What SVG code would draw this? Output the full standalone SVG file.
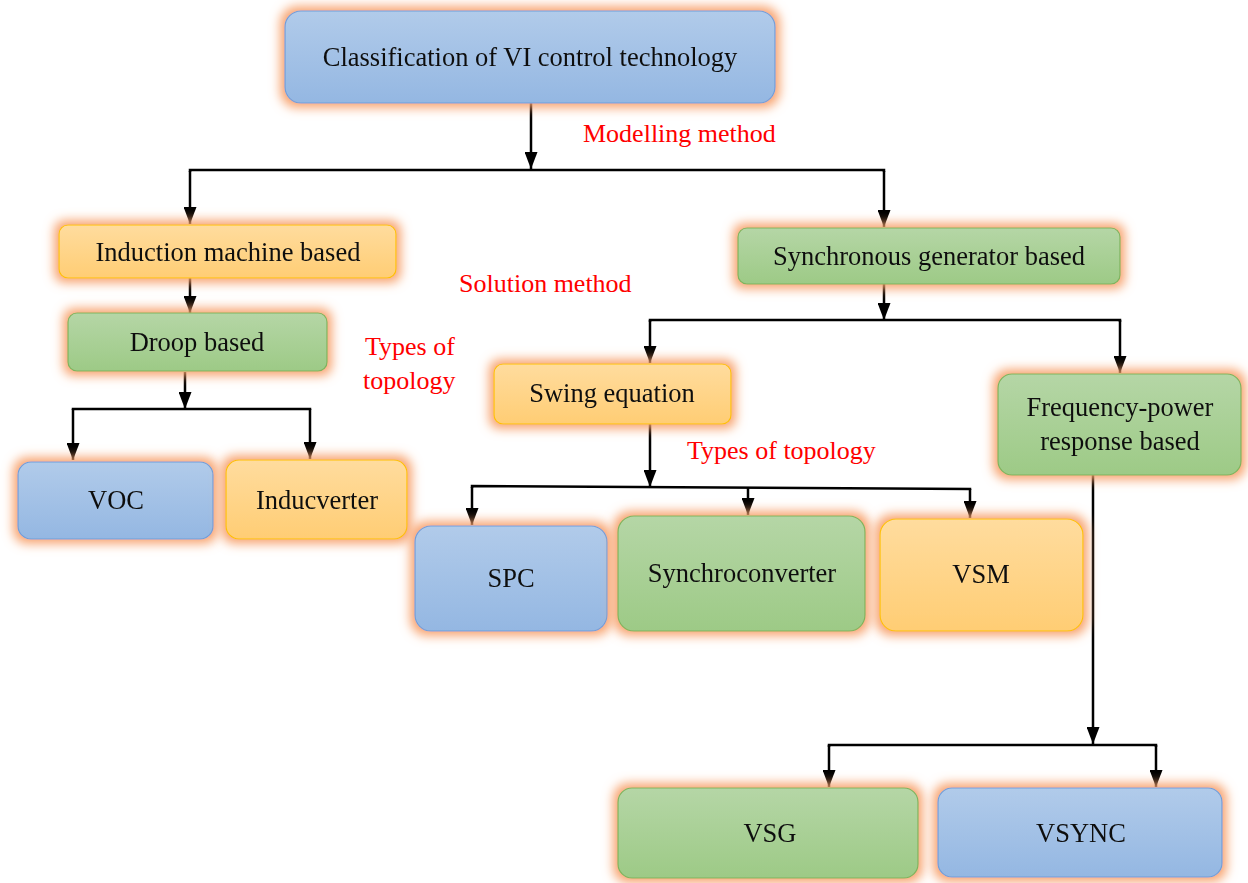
<svg xmlns="http://www.w3.org/2000/svg" width="1248" height="883" viewBox="0 0 1248 883">
  <defs>
    <linearGradient id="gBlue" x1="0" y1="0" x2="0" y2="1">
      <stop offset="0" stop-color="#b1cbea"/>
      <stop offset="1" stop-color="#94b7e2"/>
    </linearGradient>
    <linearGradient id="gGreen" x1="0" y1="0" x2="0" y2="1">
      <stop offset="0" stop-color="#b5d6a6"/>
      <stop offset="1" stop-color="#9dca86"/>
    </linearGradient>
    <linearGradient id="gGold" x1="0" y1="0" x2="0" y2="1">
      <stop offset="0" stop-color="#ffdc9e"/>
      <stop offset="1" stop-color="#ffcd74"/>
    </linearGradient>
    <filter id="glow" x="-20%" y="-40%" width="140%" height="180%">
      <feMorphology in="SourceAlpha" operator="dilate" radius="4" result="d"/>
      <feGaussianBlur in="d" stdDeviation="5.5" result="b"/>
      <feFlood flood-color="#f7a06a" flood-opacity="1"/>
      <feComposite in2="b" operator="in" result="g"/>
      <feMerge>
        <feMergeNode in="g"/>
        <feMergeNode in="SourceGraphic"/>
      </feMerge>
    </filter>
    <marker id="arr" viewBox="0 0 17 13" refX="17" refY="6.5" markerWidth="17" markerHeight="13" markerUnits="userSpaceOnUse" orient="auto">
      <path d="M0,0 L17,6.5 L0,13 Z" fill="#000"/>
    </marker>
  </defs>
  <style>
    .box { filter: url(#glow); }
    .blue { fill: url(#gBlue); stroke: #6d9fd9; stroke-width: 1.2; }
    .green { fill: url(#gGreen); stroke: #7cb45e; stroke-width: 1.2; }
    .gold { fill: url(#gGold); stroke: #ffc000; stroke-width: 1.2; }
    .t { font-family: "Liberation Serif", "Times New Roman", serif; font-size: 26.5px; fill: #111; text-anchor: middle; dominant-baseline: central; }
    .lbl { font-family: "Liberation Serif", "Times New Roman", serif; font-size: 26px; fill: #ff0000; }
    .ln { fill: none; stroke: #000; stroke-width: 2.5; }
    .ar { fill: none; stroke: #000; stroke-width: 2.5; marker-end: url(#arr); }
  </style>
  <rect width="1248" height="883" fill="#fff"/>

  <g id="connectors">
    <line class="ar" x1="531" y1="103" x2="531" y2="169"/>
    <polyline class="ln" points="190,172 190,170 884,170 884,172"/>
    <line class="ar" x1="190" y1="171" x2="190" y2="224"/>
    <line class="ar" x1="884" y1="171" x2="884" y2="227"/>

    <line class="ar" x1="190" y1="278" x2="190" y2="313"/>
    <line class="ar" x1="185" y1="372" x2="185" y2="409"/>
    <polyline class="ln" points="73,410 73,409 310,409 310,410"/>
    <line class="ar" x1="73" y1="409" x2="73" y2="460"/>
    <line class="ar" x1="310" y1="409" x2="310" y2="459"/>

    <line class="ar" x1="884" y1="284" x2="884" y2="320"/>
    <polyline class="ln" points="650,322 650,320 1120,320 1120,322"/>
    <line class="ar" x1="650" y1="320" x2="650" y2="363"/>
    <line class="ar" x1="1120" y1="320" x2="1120" y2="373"/>

    <line class="ar" x1="650" y1="424" x2="650" y2="487"/>
    <polyline class="ln" points="472,488 472,486 970,489 970,490"/>
    <line class="ar" x1="472" y1="487" x2="472" y2="525"/>
    <line class="ar" x1="748" y1="488" x2="748" y2="515"/>
    <line class="ar" x1="970" y1="489" x2="970" y2="518"/>

    <line class="ar" x1="1093" y1="475" x2="1093" y2="744"/>
    <polyline class="ln" points="829,747 829,745 1156,745 1156,747"/>
    <line class="ar" x1="829" y1="745" x2="829" y2="787"/>
    <line class="ar" x1="1156" y1="745" x2="1156" y2="787"/>
  </g>

  <g id="n-root" class="box">
    <rect class="blue" x="285" y="11" width="490" height="92" rx="16"/>
    <text class="t" x="530" y="57">Classification of VI control technology</text>
  </g>

  <g id="n-induction" class="box">
    <rect class="gold" x="59" y="225" width="337" height="53" rx="9"/>
    <text class="t" x="228" y="252">Induction machine based</text>
  </g>

  <g id="n-droop" class="box">
    <rect class="green" x="68" y="313" width="259" height="58" rx="9"/>
    <text class="t" x="197" y="342">Droop based</text>
  </g>

  <g id="n-voc" class="box">
    <rect class="blue" x="18" y="462" width="195" height="77" rx="13"/>
    <text class="t" x="116" y="500">VOC</text>
  </g>

  <g id="n-inducverter" class="box">
    <rect class="gold" x="226" y="460" width="181" height="79" rx="13"/>
    <text class="t" x="317" y="500">Inducverter</text>
  </g>

  <g id="n-syngen" class="box">
    <rect class="green" x="738" y="228" width="382" height="56" rx="9"/>
    <text class="t" x="929" y="256">Synchronous generator based</text>
  </g>

  <g id="n-swing" class="box">
    <rect class="gold" x="494" y="364" width="237" height="60" rx="9"/>
    <text class="t" x="612" y="393">Swing equation</text>
  </g>

  <g id="n-freqpower" class="box">
    <rect class="green" x="998" y="374" width="243" height="101" rx="14"/>
    <text class="t" x="1120" y="407">Frequency-power</text>
    <text class="t" x="1120" y="441">response based</text>
  </g>

  <g id="n-spc" class="box">
    <rect class="blue" x="415" y="526" width="192" height="105" rx="16"/>
    <text class="t" x="511" y="578">SPC</text>
  </g>

  <g id="n-synchroconverter" class="box">
    <rect class="green" x="618" y="516" width="247" height="115" rx="16"/>
    <text class="t" x="742" y="573">Synchroconverter</text>
  </g>

  <g id="n-vsm" class="box">
    <rect class="gold" x="880" y="519" width="203" height="112" rx="16"/>
    <text class="t" x="981" y="574">VSM</text>
  </g>

  <g id="n-vsg" class="box">
    <rect class="green" x="618" y="788" width="300" height="90" rx="14"/>
    <text class="t" x="770" y="833">VSG</text>
  </g>

  <g id="n-vsync" class="box">
    <rect class="blue" x="938" y="788" width="284" height="89" rx="14"/>
    <text class="t" x="1081" y="833">VSYNC</text>
  </g>

  <g id="labels">
    <text class="lbl" x="583" y="142">Modelling method</text>
    <text class="lbl" x="459" y="292">Solution method</text>
    <text class="lbl" x="365" y="355">Types of</text>
    <text class="lbl" x="363" y="389">topology</text>
    <text class="lbl" x="687" y="459">Types of topology</text>
  </g>
</svg>
